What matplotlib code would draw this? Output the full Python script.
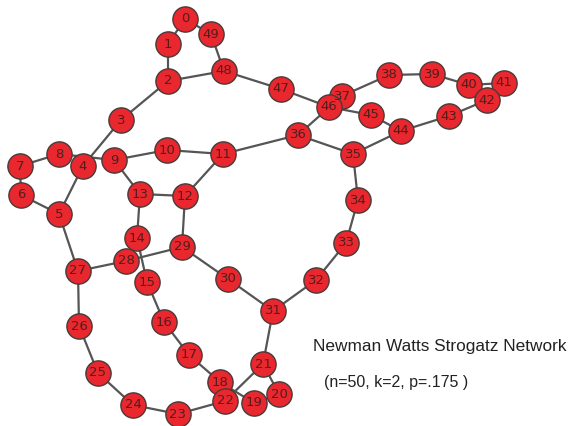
import matplotlib
matplotlib.use("Agg")
import matplotlib.pyplot as plt

# node positions (pixels, y downwards)
node_x = [185, 168, 168, 121, 83, 59, 21, 20, 59, 114,
          167, 223, 185, 140, 137, 147, 164, 189, 220, 254,
          279, 263, 225, 178, 133, 98, 79, 78, 126, 182,
          228, 273, 316, 346, 358, 353, 298, 342, 389, 432,
          469, 504, 487, 449, 401, 371, 329, 281, 224, 211]
node_y = [19, 44, 81, 120, 166, 214, 195, 166, 154, 160,
          150, 154, 196, 194, 238, 282, 322, 355, 382, 403,
          394, 364, 401, 414, 405, 373, 326, 271, 261, 247,
          279, 311, 280, 243, 200, 154, 135, 96, 75, 74,
          85, 83, 100, 116, 131, 115, 107, 89, 71, 34]

n_nodes = 50
ring_edges = [(i, (i + 1) % n_nodes) for i in range(n_nodes)]
shortcut_edges = [(2, 48), (9, 13), (5, 27), (12, 29), (11, 36), (35, 44), (21, 31)]

title = "Newman Watts Strogatz Network"
subtitle = "(n=50, k=2, p=.175 )"

fig = plt.figure(figsize=(5.68, 4.26), dpi=100)
ax = fig.add_axes([0, 0, 1, 1])
ax.set_xlim(0, 568)
ax.set_ylim(426, 0)
ax.axis("off")

for a, b in ring_edges + shortcut_edges:
    ax.plot([node_x[a], node_x[b]], [node_y[a], node_y[b]],
            color="#555555", lw=1.6, zorder=1)

ax.scatter(node_x, node_y, s=330, color="#e8272e", edgecolors="#4a3a3a",
           linewidths=1.0, zorder=2)
for i in range(n_nodes):
    ax.text(node_x[i], node_y[i], str(i), ha="center", va="center",
            fontsize=9.5, color="#551c1c", zorder=3)

ax.text(313, 347, title, fontsize=12.4, family="Liberation Sans",
        color="#222222", va="center", ha="left")
ax.text(324, 382, subtitle, fontsize=11.5, family="Liberation Sans",
        color="#222222", va="center", ha="left")

plt.savefig("out.png", dpi=100)
